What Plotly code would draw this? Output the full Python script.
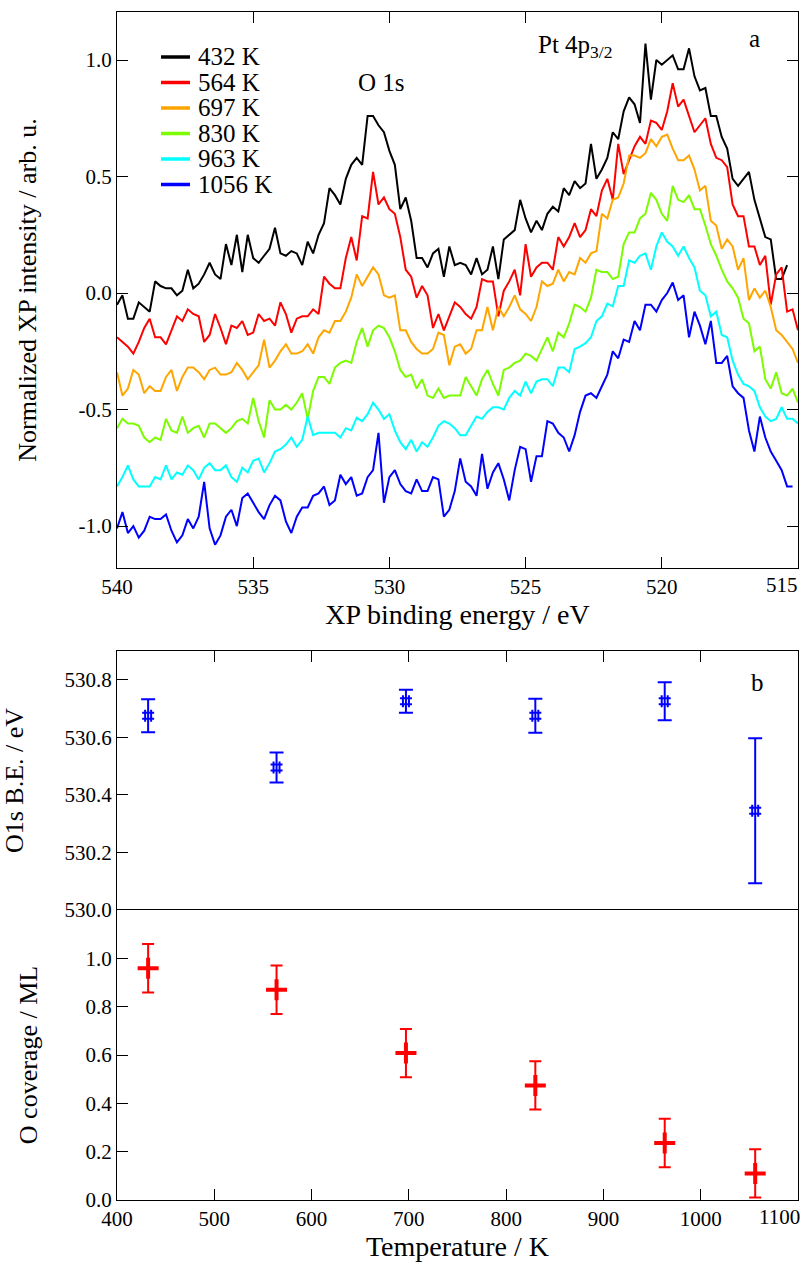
import plotly.graph_objects as go

# ---------------- panel a : XP spectra ----------------
energy_start = 540.0   # eV, first point of every spectrum
energy_step = 0.2      # eV between points

series_names = ["432 K", "564 K", "697 K", "830 K", "963 K", "1056 K"]
series_colors = ["#000000", "#ff0000", "#ffa500", "#7cfc00", "#00ffff", "#0000ff"]

int_432 = [
    -0.05, -0.01, -0.11, -0.11, -0.04, -0.06, -0.08, 0.05, 0.03, 0.02, 0.02, -0.01, 0.01, 0.10, 0.02, 0.04,
    0.08, 0.13, 0.08, 0.06, 0.21, 0.12,
    0.25, 0.09, 0.25, 0.15, 0.13, 0.16, 0.19, 0.28, 0.17, 0.16, 0.18, 0.17, 0.12, 0.22, 0.17, 0.25, 0.30,
    0.45, 0.42, 0.38, 0.49,
    0.55, 0.58, 0.55, 0.76, 0.76, 0.72, 0.69, 0.61, 0.55, 0.36, 0.41, 0.31, 0.15, 0.15, 0.11, 0.17, 0.19,
    0.07, 0.20, 0.12, 0.13,
    0.12, 0.08, 0.15, 0.08, 0.10, 0.20, 0.06, 0.23, 0.25, 0.27, 0.40, 0.32, 0.26, 0.31, 0.27, 0.34, 0.37,
    0.35, 0.45, 0.42, 0.48,
    0.45, 0.47, 0.64, 0.49, 0.53, 0.58, 0.69, 0.66, 0.78, 0.84, 0.81, 0.73, 1.07, 0.83, 1.00, 0.98, 1.00,
    1.02, 0.96, 0.96, 1.05,
    0.93, 0.87, 0.88, 0.76, 0.76, 0.67, 0.62, 0.49, 0.46, 0.49, 0.52, 0.40, 0.32, 0.24, 0.23, 0.06, 0.06, 0.12,
]
int_564 = [
    -0.19, -0.21, -0.23, -0.26, -0.21, -0.15, -0.11, -0.19, -0.19, -0.22, -0.16, -0.10, -0.12, -0.07, -0.09,
    -0.10, -0.21, -0.18, -0.09, -0.15, -0.22, -0.14,
    -0.15, -0.12, -0.18, -0.17, -0.09, -0.12, -0.11, -0.14, -0.04, -0.09, -0.17, -0.11, -0.10, -0.10, -0.07,
    -0.09, 0.07, 0.04, 0.02, 0.02, 0.15, 0.24,
    0.14, 0.33, 0.32, 0.52, 0.38, 0.41, 0.36, 0.34, 0.24, 0.10, 0.07, -0.02, 0.03, -0.01, -0.15, -0.09, -0.16,
    -0.10, -0.04, -0.06, -0.09,
    -0.11, -0.06, 0.06, 0.05, 0.05, -0.10, 0.01, 0.05, 0.10, -0.01, 0.21, 0.07, 0.11, 0.13, 0.13, 0.10, 0.24,
    0.20, 0.24, 0.30, 0.24,
    0.27, 0.36, 0.33, 0.44, 0.49, 0.40, 0.64, 0.51, 0.57, 0.63, 0.67, 0.64, 0.74, 0.73, 0.70, 0.78, 0.90,
    0.80, 0.83, 0.76, 0.69,
    0.72, 0.75, 0.64, 0.58, 0.57, 0.54, 0.38, 0.33, 0.33, 0.20, 0.20, 0.12, 0.16, -0.05, 0.08, 0.11, -0.08,
    -0.07, -0.16,
]
int_697 = [
    -0.34, -0.44, -0.41, -0.33, -0.35, -0.43, -0.40, -0.42, -0.42, -0.36, -0.33, -0.42, -0.36, -0.32, -0.32,
    -0.34, -0.37, -0.33, -0.32, -0.35, -0.35, -0.34,
    -0.30, -0.33, -0.37, -0.34, -0.31, -0.20, -0.32, -0.29, -0.25, -0.22, -0.26, -0.26, -0.25, -0.22, -0.26,
    -0.19, -0.16, -0.17, -0.12, -0.12, -0.08,
    -0.02, 0.08, 0.03, 0.07, 0.11, 0.08, -0.01, -0.02, -0.01, -0.16, -0.16, -0.21, -0.24, -0.26, -0.26, -0.24,
    -0.17, -0.18, -0.31, -0.23, -0.22,
    -0.26, -0.24, -0.16, -0.16, -0.06, -0.16, -0.06, -0.10, -0.06, -0.01, -0.07, -0.09, -0.12, -0.06, 0.05,
    0.03, 0.04, 0.10, 0.05, 0.09, 0.08,
    0.15, 0.13, 0.17, 0.18, 0.34, 0.32, 0.40, 0.41, 0.47, 0.59, 0.59, 0.58, 0.60, 0.66, 0.63, 0.67, 0.68,
    0.62, 0.57, 0.57, 0.59,
    0.53, 0.44, 0.46, 0.31, 0.29, 0.19, 0.23, 0.20, 0.10, 0.15, -0.03, 0.02, -0.02, 0.01, -0.06, -0.16, -0.18,
    -0.21, -0.24, -0.30,
]
int_830 = [
    -0.58, -0.54, -0.56, -0.56, -0.57, -0.62, -0.64, -0.62, -0.63, -0.54, -0.59, -0.60, -0.53, -0.60, -0.58,
    -0.57, -0.62, -0.56, -0.56, -0.58, -0.60, -0.58,
    -0.55, -0.54, -0.56, -0.45, -0.55, -0.62, -0.46, -0.50, -0.50, -0.48, -0.50, -0.47, -0.43, -0.54, -0.42,
    -0.36, -0.36, -0.39, -0.32, -0.30, -0.29, -0.30,
    -0.21, -0.15, -0.23, -0.16, -0.14, -0.15, -0.19, -0.25, -0.33, -0.36, -0.35, -0.41, -0.37, -0.44, -0.45,
    -0.41, -0.45, -0.44, -0.44, -0.44,
    -0.36, -0.40, -0.44, -0.37, -0.33, -0.39, -0.44, -0.33, -0.32, -0.30, -0.29, -0.26, -0.27, -0.29, -0.24,
    -0.19, -0.25, -0.17, -0.19, -0.13, -0.05,
    -0.06, -0.08, -0.02, 0.10, 0.09, 0.09, 0.06, 0.07, 0.21, 0.26, 0.26, 0.32, 0.34, 0.43, 0.40, 0.34, 0.31,
    0.46, 0.40, 0.39, 0.42,
    0.36, 0.36, 0.29, 0.21, 0.16, 0.10, 0.05, 0.02, -0.02, -0.11, -0.13, -0.25, -0.23, -0.37, -0.41, -0.34,
    -0.43, -0.44, -0.41, -0.47,
]
int_963 = [
    -0.83, -0.79, -0.74, -0.80, -0.83, -0.83, -0.83, -0.79, -0.80, -0.74, -0.80, -0.77, -0.78, -0.74, -0.76,
    -0.80, -0.75, -0.73, -0.76, -0.76, -0.74,
    -0.79, -0.81, -0.75, -0.77, -0.72, -0.71, -0.77, -0.73, -0.68, -0.67, -0.65, -0.62, -0.66, -0.63, -0.53,
    -0.61, -0.60, -0.60, -0.60, -0.60, -0.62, -0.58,
    -0.59, -0.535, -0.55, -0.52, -0.47, -0.50, -0.54, -0.52, -0.59, -0.64, -0.67, -0.63, -0.68, -0.64, -0.66,
    -0.62,
    -0.57, -0.55, -0.56, -0.58, -0.61, -0.61, -0.57, -0.53, -0.54, -0.51, -0.49, -0.49, -0.50, -0.45, -0.42,
    -0.44, -0.38, -0.43, -0.38, -0.37, -0.37, -0.40, -0.32, -0.32, -0.34,
    -0.24, -0.23, -0.215, -0.19, -0.12, -0.10, -0.045, -0.057, 0.03, 0.03, 0.14, 0.13, 0.16, 0.17, 0.10, 0.20,
    0.26, 0.22, 0.20, 0.16, 0.20, 0.15,
    0.11, 0.01, -0.01, -0.10, -0.08, -0.18, -0.19, -0.29, -0.35, -0.39, -0.40, -0.42, -0.49, -0.53, -0.55,
    -0.54, -0.49, -0.54, -0.54, -0.56,
]
int_1056 = [
    -1.01, -0.94, -1.03, -1.00, -1.05, -1.02, -0.96, -0.97, -0.97, -0.95, -1.02, -1.07, -1.04, -0.97, -1.01,
    -0.96, -0.81, -1.01, -1.08, -1.04, -0.96, -0.93, -1.00, -0.88, -0.86, -0.90, -0.94, -0.97, -0.91, -0.87,
    -0.89, -0.98, -1.03, -0.96,
    -0.92, -0.92, -0.87, -0.86, -0.83, -0.91, -0.89, -0.78, -0.82, -0.79, -0.87, -0.86, -0.79, -0.76, -0.60,
    -0.90, -0.79, -0.76, -0.82, -0.85, -0.86, -0.80, -0.85, -0.85, -0.79, -0.80,
    -0.96, -0.93, -0.85, -0.71, -0.81, -0.83, -0.87, -0.69, -0.84, -0.77, -0.73, -0.80, -0.89, -0.76, -0.66,
    -0.67, -0.81, -0.70, -0.70, -0.55, -0.56, -0.60, -0.62, -0.68, -0.61, -0.51, -0.44, -0.43, -0.45, -0.40,
    -0.35, -0.25, -0.28, -0.20, -0.21, -0.12, -0.16, -0.05, -0.05, -0.08, -0.03, 0.00, 0.045, -0.03, -0.01,
    -0.19, -0.08, -0.14, -0.22, -0.12, -0.30, -0.30, -0.27, -0.40, -0.43, -0.45, -0.59, -0.68, -0.53, -0.62,
    -0.68, -0.72, -0.76, -0.83, -0.83,
]
spectra = [int_432, int_564, int_697, int_830, int_963, int_1056]

a_xticks = [540, 535, 530, 525, 520]
a_xticktext = ["540", "535", "530", "525", "520"]
a_last_xtick = 515
a_yticks = [-1.0, -0.5, 0.0, 0.5, 1.0]
a_yticktext = ["-1.0", "-0.5", "0.0", "0.5", "1.0"]

# ---------------- panel b : O 1s binding energy and coverage ----------------
temperatures = [432, 564, 697, 830, 963, 1056]
o1s_be = [530.675, 530.495, 530.725, 530.675, 530.725, 530.345]
o1s_be_err = [0.057, 0.052, 0.040, 0.059, 0.066, 0.252]
o_coverage = [0.959, 0.870, 0.608, 0.474, 0.236, 0.110]
o_coverage_err = [0.10, 0.10, 0.10, 0.10, 0.10, 0.10]

b_xticks = [400, 500, 600, 700, 800, 900, 1000]
b_xticktext = ["400", "500", "600", "700", "800", "900", "1000"]
b_last_xtick = 1100
be_ticks = [530.0, 530.2, 530.4, 530.6, 530.8]
be_ticktext = ["530.0", "530.2", "530.4", "530.6", "530.8"]
cov_ticks = [0.0, 0.2, 0.4, 0.6, 0.8, 1.0]
cov_ticktext = ["0.0", "0.2", "0.4", "0.6", "0.8", "1.0"]

FONT = "Liberation Serif"
TICK = 21
XTITLE = 28
YTITLE = 26

# layout geometry (pixels of the 804 x 1264 page)
L, R, T, B = 117, 6, 12, 64
PLOT_H = 1264 - T - B
PLOT_W = 804 - L - R


def py(pix):
    """page pixel row -> paper y"""
    return (1264 - B - pix) / PLOT_H


def px(pix):
    """page pixel column -> paper x"""
    return (pix - L) / PLOT_W


fig = go.Figure()

for name, color, vals in zip(series_names, series_colors, spectra):
    xs = [round(energy_start - energy_step * i, 2) for i in range(len(vals))]
    fig.add_trace(go.Scatter(x=xs, y=vals, mode="lines", name=name, showlegend=False,
                             line=dict(color=color, width=2),
                             xaxis="x", yaxis="y"))

fig.add_trace(go.Scatter(
    x=temperatures, y=o1s_be, mode="markers", showlegend=False,
    marker=dict(symbol="hash", size=12, color="#0000ff", line=dict(color="#0000ff", width=2)),
    error_y=dict(type="data", array=o1s_be_err, visible=True, color="#0000ff", thickness=2, width=7),
    xaxis="x2", yaxis="y2"))

fig.add_trace(go.Scatter(
    x=temperatures, y=o_coverage, mode="markers", showlegend=False,
    marker=dict(symbol="cross-thin", size=15, color="#ff0000", line=dict(color="#ff0000", width=4)),
    error_y=dict(type="data", array=o_coverage_err, visible=True, color="#ff0000", thickness=2, width=6),
    xaxis="x3", yaxis="y3"))

axis_common = dict(showline=True, linecolor="black", linewidth=1.3, showgrid=False, zeroline=False,
                   ticks="inside", ticklen=11, tickwidth=1.2, tickcolor="black", automargin=False,
                   tickfont=dict(family=FONT, size=TICK, color="black"))

fig.update_layout(
    width=804, height=1264,
    margin=dict(l=L, r=R, t=T, b=B),
    paper_bgcolor="white", plot_bgcolor="white",
    font=dict(family=FONT, color="black"),
    showlegend=False,
    xaxis=dict(domain=[0, 1], anchor="y", range=[540, 515], tickvals=a_xticks, ticktext=a_xticktext,
               mirror="ticks",
               title=dict(text="XP binding energy / eV", font=dict(family=FONT, size=XTITLE), standoff=2),
               **axis_common),
    yaxis=dict(domain=[py(568), 1], anchor="x", range=[-1.18, 1.206], tickvals=a_yticks,
               ticktext=a_yticktext, mirror="ticks",
               title=dict(text="Normalized XP intensity / arb. u.", font=dict(family=FONT, size=YTITLE),
                          standoff=34),
               **axis_common),
    xaxis2=dict(domain=[0, 1], anchor="y2", range=[400, 1100], side="top", tickvals=b_xticks,
                showticklabels=False, mirror=False, **axis_common),
    yaxis2=dict(domain=[py(910), py(651)], anchor="x2", range=[530.0, 530.9], tickvals=be_ticks,
                ticktext=be_ticktext, mirror=True,
                title=dict(text="O1s B.E. / eV", font=dict(family=FONT, size=YTITLE), standoff=40),
                **axis_common),
    xaxis3=dict(domain=[0, 1], anchor="y3", range=[400, 1100], tickvals=b_xticks, ticktext=b_xticktext,
                mirror=True,
                title=dict(text="Temperature / K", font=dict(family=FONT, size=XTITLE), standoff=4),
                **axis_common),
    yaxis3=dict(domain=[0, py(910)], anchor="x3", range=[0, 1.2], tickvals=cov_ticks,
                ticktext=cov_ticktext, mirror=True,
                title=dict(text="O coverage / ML", font=dict(family=FONT, size=YTITLE), standoff=40),
                **axis_common),
)

# legend of panel a (line sample + label, stacked like the original)
legend_rows = [57, 82.5, 108, 133.5, 159, 184.5]
for name, color, row in zip(series_names, series_colors, legend_rows):
    fig.add_shape(type="line", xref="paper", yref="paper", x0=px(161), x1=px(190), y0=py(row), y1=py(row),
                  line=dict(color=color, width=3.5))
    fig.add_annotation(x=px(196), y=py(row), xref="paper", yref="paper", text=name, showarrow=False,
                       xanchor="left", yanchor="middle", font=dict(family=FONT, size=25, color="black"))

ann_font = dict(family=FONT, size=25, color="black")
fig.add_annotation(x=530.3, y=0.905, xref="x", yref="y", text="O 1s", showarrow=False, font=ann_font)
fig.add_annotation(x=523.2, y=1.056, xref="x", yref="y", text="Pt 4p<sub>3/2</sub>", showarrow=False,
                   font=ann_font)
fig.add_annotation(x=516.6, y=1.094, xref="x", yref="y", text="a", showarrow=False, font=ann_font)
fig.add_annotation(x=1058, y=530.79, xref="x2", yref="y2", text="b", showarrow=False, font=ann_font)
# right-most tick labels, pulled inside the page as in the original
fig.add_annotation(x=a_last_xtick, y=-1.18, xref="x", yref="y", text=str(a_last_xtick), showarrow=False,
                   xanchor="right", yanchor="top", xshift=2, yshift=-3,
                   font=dict(family=FONT, size=TICK, color="black"))
fig.add_annotation(x=b_last_xtick, y=0, xref="x3", yref="y3", text=str(b_last_xtick), showarrow=False,
                   xanchor="right", yanchor="top", xshift=4, yshift=-3,
                   font=dict(family=FONT, size=TICK, color="black"))

# the page body has a default 8 px margin; remove it so the figure sits at the page origin
fig.write_html("out.html", config={"displayModeBar": False},
               post_script="document.body.style.margin='0px';")
